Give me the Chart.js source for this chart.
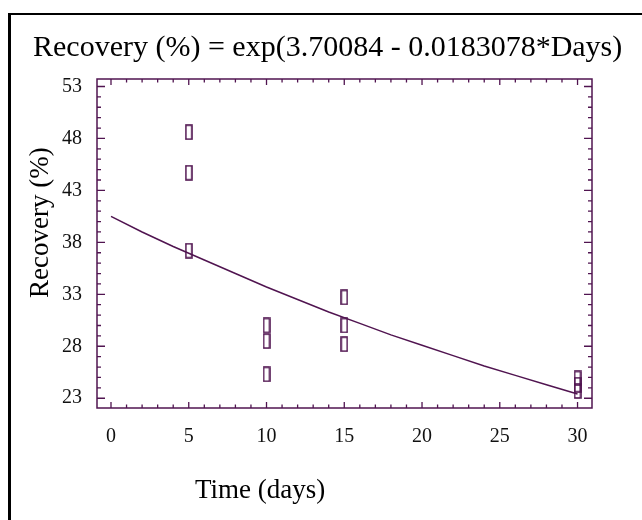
<!DOCTYPE html>
<html>
<head>
<meta charset="utf-8">
<script src="https://cdn.jsdelivr.net/npm/chart.js@4.4.1/dist/chart.umd.min.js"></script>
<style>
  html, body { margin: 0; padding: 0; background: #fff; }
  #wrap { width: 642px; height: 520px; }
</style>
</head>
<body>
<div id="wrap"><canvas id="fitChart" width="642" height="520"></canvas></div>
<script>
/********************
DATA
********************/
var obsDays = [5, 5, 5, 10, 10, 10, 15, 15, 15, 30, 30, 30];
var obsRecovery = [48.6, 44.7, 37.2, 30.0, 28.5, 25.3, 32.7, 30.0, 28.2, 24.9, 24.3, 23.7];

// fitted curve
var lineDays = [0, 2, 4, 6, 8, 10, 12, 14, 16, 18, 20, 22, 24, 26, 28, 30];
var lineRecovery = [40.5, 39.0, 37.6, 36.3, 35.0, 33.7, 32.5, 31.3, 30.2, 29.1, 28.1, 27.1, 26.1, 25.2, 24.3, 23.4];

var xTickLabels = [0, 5, 10, 15, 20, 25, 30];
var yTickLabels = [23, 28, 33, 38, 43, 48, 53];

var titleText = 'Recovery (%) = exp(3.70084 - 0.0183078*Days)';
var xTitle = 'Time (days)';
var yTitle = 'Recovery (%)';

var purple = '#501450';
var serif = '"Liberation Serif", "Times New Roman", serif';

/********************
POINT MARKER (tall hollow box)
********************/
var box = document.createElement('canvas');
box.width = 8;
box.height = 16;
var bctx = box.getContext('2d');
bctx.strokeStyle = purple;
bctx.lineWidth = 1.6;
bctx.strokeRect(1, 1, 6, 14);

/********************
FRAME, TICKS AND TEXT
********************/
var decor = {
  id: 'decor',
  afterDraw: function (chart) {
    var ctx = chart.ctx;
    var a = chart.chartArea;
    var xs = chart.scales.x, ys = chart.scales.y;
    ctx.save();

    // outer black border (left and top only are visible)
    ctx.fillStyle = '#000';
    ctx.fillRect(8, 13, 3, 520);
    ctx.fillRect(8, 13, 640, 2);

    // plot frame
    ctx.strokeStyle = purple;
    ctx.lineWidth = 1.5;
    ctx.strokeRect(a.left, a.top, a.right - a.left, a.bottom - a.top);

    // inward ticks, every unit
    ctx.lineWidth = 1.3;
    ctx.beginPath();
    for (var v = Math.ceil(xs.min); v <= Math.floor(xs.max); v++) {
      var px = xs.getPixelForValue(v);
      var big = xTickLabels.indexOf(v) >= 0;
      var len = big ? 6 : 3.5;
      ctx.moveTo(px, a.bottom); ctx.lineTo(px, a.bottom - len);
      ctx.moveTo(px, a.top); ctx.lineTo(px, a.top + len);
    }
    for (var w = Math.ceil(ys.min); w <= Math.floor(ys.max); w++) {
      var py = ys.getPixelForValue(w);
      var bigY = yTickLabels.indexOf(w) >= 0;
      var lenY = bigY ? 8 : 4;
      ctx.moveTo(a.left, py); ctx.lineTo(a.left + lenY, py);
      ctx.moveTo(a.right, py); ctx.lineTo(a.right - lenY, py);
    }
    ctx.stroke();

    // titles
    ctx.fillStyle = '#000';
    ctx.textBaseline = 'alphabetic';
    ctx.textAlign = 'left';
    ctx.font = '30px ' + serif;
    ctx.fillText(titleText, 33, 56);

    ctx.font = '27px ' + serif;
    ctx.fillText(xTitle, 195, 498);

    ctx.translate(48, 298);
    ctx.rotate(-Math.PI / 2);
    ctx.fillText(yTitle, 0, 0);
    ctx.restore();
  }
};

/********************
SCATTER + FITTED LINE
********************/
var ctx = document.getElementById('fitChart').getContext('2d');
var chart = new Chart(ctx, {
  type: 'scatter',
  data: {
    datasets: [{
      type: 'line',
      data: lineDays.map(function (d, i) { return { x: d, y: lineRecovery[i] }; }),
      borderColor: purple,
      borderWidth: 1.5,
      pointRadius: 0,
      fill: false,
      tension: 0
    }, {
      data: obsDays.map(function (d, i) { return { x: d, y: obsRecovery[i] }; }),
      pointStyle: box,
      pointRadius: 7,
      borderColor: purple
    }]
  },
  plugins: [decor],
  options: {
    responsive: false,
    animation: false,
    devicePixelRatio: 1,
    layout: { padding: { top: 79, right: 50, left: 0, bottom: 0 } },
    plugins: {
      legend: { display: false },
      tooltip: { enabled: false },
      title: { display: false }
    },
    scales: {
      x: {
        type: 'linear',
        min: -0.9,
        max: 30.93,
        afterFit: function (s) { s.height = 112; },
        afterBuildTicks: function (s) { s.ticks = xTickLabels.map(function (v) { return { value: v }; }); },
        grid: { display: false, drawTicks: false },
        border: { display: false },
        ticks: { color: '#111', padding: 17, maxRotation: 0, font: { family: serif, size: 20 } }
      },
      y: {
        type: 'linear',
        min: 22.06,
        max: 53.72,
        afterFit: function (s) { s.width = 97; },
        afterBuildTicks: function (s) { s.ticks = yTickLabels.map(function (v) { return { value: v }; }); },
        grid: { display: false, drawTicks: false },
        border: { display: false },
        ticks: { color: '#111', padding: 15, font: { family: serif, size: 20 } }
      }
    }
  }
});
</script>
</body>
</html>
